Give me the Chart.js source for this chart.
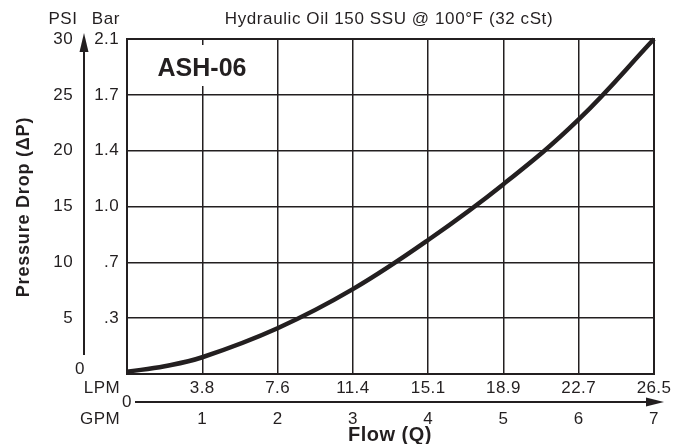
<!DOCTYPE html>
<html>
<head>
<meta charset="utf-8">
<script src="https://cdn.jsdelivr.net/npm/chart.js@4"></script>
<style>
html,body{margin:0;padding:0;background:#fff;}
#c{display:block;}
</style>
</head>
<body>
<canvas id="c" width="689" height="444" style="width:689px;height:444px"></canvas>
<script>
// ---- data ----
const gpmValues = [0, 0.5, 1, 2, 3, 4, 5, 6, 7];
const psiValues = [0.2, 0.7, 1.5, 4.1, 7.6, 12.0, 17.0, 22.8, 30];
const gpmTicks = [1, 2, 3, 4, 5, 6, 7];
const lpmLabels = ['3.8', '7.6', '11.4', '15.1', '18.9', '22.7', '26.5'];
const psiTicks = [5, 10, 15, 20, 25, 30];
const barLabels = ['.3', '.7', '1.0', '1.4', '1.7', '2.1'];
const titleText = 'Hydraulic Oil 150 SSU @ 100°F (32 cSt)';
const modelText = 'ASH-06';

const INK = '#231f20';
const FONT = '"Liberation Sans", Arial, Helvetica, sans-serif';

function setFont(ctx, f, ls) {
  ctx.font = f;
  if ('letterSpacing' in ctx) ctx.letterSpacing = (ls || 0) + 'px';
}

const decor = {
  id: 'decor',
  afterDraw(chart) {
    const ctx = chart.ctx;
    const xs = chart.scales.x, ys = chart.scales.y;
    const ca = chart.chartArea;
    ctx.save();
    ctx.fillStyle = INK;
    ctx.strokeStyle = INK;
    ctx.textBaseline = 'middle';

    // model label box
    ctx.fillStyle = '#fff';
    ctx.fillRect(150, 45, 104, 41);
    ctx.fillStyle = INK;
    setFont(ctx, 'bold 25px ' + FONT, 0);
    ctx.textAlign = 'center';
    ctx.fillText(modelText, 202, 69);

    // title
    setFont(ctx, '17px ' + FONT, 0.6);
    ctx.fillText(titleText, 389, 19);
    ctx.fillText('PSI', 63, 19);
    ctx.fillText('Bar', 106, 19);

    // PSI ticks & Bar ticks
    setFont(ctx, '17px ' + FONT, 0.4);
    psiTicks.forEach((v, i) => {
      const y = ys.getPixelForValue(v);
      ctx.textAlign = 'right';
      ctx.fillText(String(v), 73, y);
      ctx.fillText(barLabels[i], 119, y);
    });
    ctx.textAlign = 'center';
    ctx.fillText('0', 80, 369);

    // y arrow
    ctx.lineWidth = 2;
    ctx.beginPath();
    ctx.moveTo(84, 355);
    ctx.lineTo(84, 45);
    ctx.stroke();
    ctx.beginPath();
    ctx.moveTo(84, 33);
    ctx.lineTo(88.5, 52);
    ctx.lineTo(79.5, 52);
    ctx.closePath();
    ctx.fill();

    // LPM / GPM labels
    gpmTicks.forEach((g, i) => {
      const x = xs.getPixelForValue(g);
      ctx.textAlign = 'center';
      ctx.fillText(lpmLabels[i], x, 388);
      ctx.fillText(String(g), x, 419);
    });
    ctx.textAlign = 'right';
    ctx.fillText('LPM', 120, 388);
    ctx.fillText('GPM', 120, 419);
    ctx.textAlign = 'center';
    ctx.fillText('0', 127, 402);

    // x arrow
    ctx.beginPath();
    ctx.moveTo(135, 402);
    ctx.lineTo(650, 402);
    ctx.stroke();
    ctx.beginPath();
    ctx.moveTo(664, 402);
    ctx.lineTo(646, 397.5);
    ctx.lineTo(646, 406.5);
    ctx.closePath();
    ctx.fill();

    // axis titles
    setFont(ctx, 'bold 20px ' + FONT, 0.5);
    ctx.textAlign = 'center';
    ctx.fillText('Flow (Q)', 390, 435);
    setFont(ctx, 'bold 18px ' + FONT, 0.8);
    ctx.save();
    ctx.translate(24, 207);
    ctx.rotate(-Math.PI / 2);
    ctx.fillText('Pressure Drop (\u0394P)', 0, 0);
    ctx.restore();

    // plot border
    ctx.lineWidth = 2;
    ctx.strokeRect(ca.left, ca.top, ca.right - ca.left, ca.bottom - ca.top);
    ctx.restore();
  }
};

new Chart(document.getElementById('c'), {
  type: 'line',
  data: {
    datasets: [{
      data: gpmValues.map((g, i) => ({ x: g, y: psiValues[i] })),
      borderColor: INK,
      borderWidth: 4.5,
      pointRadius: 0,
      tension: 0.4,
      fill: false,
      clip: false
    }]
  },
  options: {
    responsive: false,
    animation: false,
    devicePixelRatio: 1,
    layout: { padding: { left: 127, right: 35, top: 39, bottom: 70 } },
    plugins: { legend: { display: false }, tooltip: { enabled: false } },
    scales: {
      x: {
        type: 'linear', min: 0, max: 7,
        ticks: { display: false, stepSize: 1 },
        grid: { color: INK, lineWidth: 1.5, drawTicks: false },
        border: { display: false }
      },
      y: {
        type: 'linear', min: 0, max: 30,
        ticks: { display: false, stepSize: 5 },
        grid: { color: INK, lineWidth: 1.5, drawTicks: false },
        border: { display: false }
      }
    }
  },
  plugins: [decor]
});
</script>
</body>
</html>
